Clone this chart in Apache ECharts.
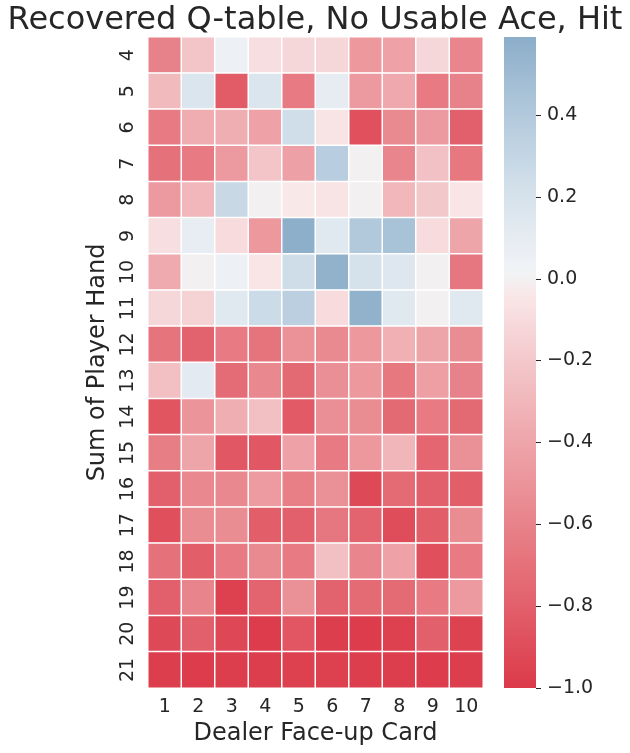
<!DOCTYPE html>
<html>
<head>
<meta charset="utf-8">
<script src="https://cdn.jsdelivr.net/npm/echarts@6/dist/echarts.min.js"></script>
<style>html,body{margin:0;padding:0;background:#fff;}#c{width:630px;height:753px;}</style>
</head>
<body>
<div id="c"></div>
<script>
const dealerCards = ['1','2','3','4','5','6','7','8','9','10'];
const playerSums = ['4','5','6','7','8','9','10','11','12','13','14','15','16','17','18','19','20','21'];
// one array per player sum, values for dealer card 1..10
const q4  = [-0.60,-0.22, 0.05,-0.08,-0.12,-0.12,-0.48,-0.42,-0.12,-0.58];
const q5  = [-0.28, 0.17,-0.82, 0.17,-0.65, 0.10,-0.47,-0.38,-0.65,-0.60];
const q6  = [-0.65,-0.36,-0.35,-0.42, 0.23,-0.06,-0.88,-0.56,-0.47,-0.80];
const q7  = [-0.70,-0.65,-0.47,-0.22,-0.43, 0.37, 0.00,-0.58,-0.24,-0.66];
const q8  = [-0.47,-0.30, 0.28, 0.00,-0.04,-0.06, 0.00,-0.30,-0.20,-0.05];
const q9  = [-0.08, 0.08,-0.10,-0.48, 0.58, 0.13, 0.40, 0.45,-0.10,-0.40];
const q10 = [-0.37, 0.00, 0.05,-0.05, 0.24, 0.56, 0.20, 0.15, 0.00,-0.67];
const q11 = [-0.12,-0.15, 0.14, 0.26, 0.35,-0.10, 0.56, 0.14, 0.00, 0.14];
const q12 = [-0.68,-0.79,-0.65,-0.68,-0.51,-0.56,-0.48,-0.34,-0.40,-0.54];
const q13 = [-0.25, 0.12,-0.73,-0.57,-0.75,-0.53,-0.48,-0.66,-0.44,-0.60];
const q14 = [-0.86,-0.50,-0.35,-0.25,-0.83,-0.53,-0.54,-0.75,-0.65,-0.75];
const q15 = [-0.63,-0.40,-0.84,-0.84,-0.42,-0.65,-0.48,-0.31,-0.77,-0.52];
const q16 = [-0.80,-0.57,-0.57,-0.46,-0.62,-0.52,-0.92,-0.74,-0.80,-0.81];
const q17 = [-0.89,-0.54,-0.54,-0.81,-0.80,-0.67,-0.78,-0.90,-0.81,-0.54];
const q18 = [-0.70,-0.81,-0.65,-0.56,-0.65,-0.25,-0.58,-0.42,-0.89,-0.65];
const q19 = [-0.80,-0.59,-0.97,-0.78,-0.52,-0.79,-0.74,-0.74,-0.65,-0.47];
const q20 = [-0.92,-0.80,-0.93,-0.99,-0.85,-0.98,-0.99,-0.97,-0.80,-0.96];
const q21 = [-0.98,-0.99,-0.98,-0.98,-0.97,-0.97,-0.98,-0.98,-0.99,-0.98];
const qRows = [q4,q5,q6,q7,q8,q9,q10,q11,q12,q13,q14,q15,q16,q17,q18,q19,q20,q21];
const colorbarTicks = [-1.0,-0.8,-0.6,-0.4,-0.2,0.0,0.2,0.4];

const vMin = -1.0, vMax = 0.59;
// colours sampled along the colour bar
const paletteStops = [
  [-1.0,'#dc3a49'],[-0.9,'#df4d5a'],[-0.8,'#e2606b'],[-0.7,'#e5717a'],[-0.6,'#e8828a'],
  [-0.5,'#eb949a'],[-0.4,'#eea5aa'],[-0.3,'#f1b7bb'],[-0.2,'#f3c8cb'],[-0.1,'#f7dbdd'],
  [-0.03,'#f9e9ea'],[0.0,'#f2f2f2'],[0.03,'#eff2f6'],[0.1,'#e6ecf2'],[0.2,'#d6e2ec'],
  [0.3,'#c4d6e4'],[0.4,'#b2c9dc'],[0.5,'#9ebbd2'],[0.6,'#8aacc8']
];

const data = [];
qRows.forEach((row, r) => row.forEach((v, c) => data.push([c, r, v])));

function colorFor(v) {
  for (let i = 0; i < paletteStops.length - 1; i++) {
    const a = paletteStops[i], b = paletteStops[i+1];
    if (v <= b[0] || i === paletteStops.length - 2) {
      const t = Math.max(0, Math.min(1, (v - a[0]) / (b[0] - a[0])));
      return echarts.color.lerp(t, [a[1], b[1]]);
    }
  }
}

const font = 'DejaVu Sans';
const txt = '#262626';
const chart = echarts.init(document.getElementById('c'), null, { renderer: 'canvas' });
chart.setOption({
  animation: false,
  backgroundColor: '#fff',
  title: {
    text: 'Recovered Q-table, No Usable Ace, Hit',
    left: 'center', top: 0,
    textStyle: { fontFamily: font, fontSize: 32, fontWeight: 'normal', color: txt }
  },
  grid: [
    { left: 148, right: 147, top: 37, bottom: 65 },
    { left: 504, width: 32, top: 37, bottom: 65 }
  ],
  xAxis: [
    {
      type: 'category', data: dealerCards, gridIndex: 0, position: 'bottom',
      axisLine: { show: false }, axisTick: { show: false }, splitLine: { show: false },
      axisLabel: { fontFamily: font, fontSize: 19, color: txt, margin: 10 },
      name: 'Dealer Face-up Card', nameLocation: 'middle', nameGap: 34,
      nameTextStyle: { fontFamily: font, fontSize: 24, color: txt }
    },
    {
      type: 'value', gridIndex: 1, min: 0, max: 1, show: false
    }
  ],
  yAxis: [
    {
      type: 'category', data: playerSums, gridIndex: 0, inverse: true,
      axisLine: { show: false }, axisTick: { show: false }, splitLine: { show: false },
      axisLabel: { fontFamily: font, fontSize: 19, color: txt, rotate: 90, margin: 10 },
      name: 'Sum of Player Hand', nameLocation: 'middle', nameGap: 38, nameRotate: 90,
      nameTextStyle: { fontFamily: font, fontSize: 24, color: txt }
    },
    {
      type: 'value', gridIndex: 1, min: vMin, max: vMax, interval: 0.2, position: 'right',
      axisLine: { show: false }, splitLine: { show: false }, axisTick: { show: false },
      axisLabel: {
        fontFamily: font, fontSize: 19, color: txt, margin: 11, customValues: colorbarTicks,
        formatter: v => v.toFixed(1).replace('-', '\u2212')
      }
    }
  ],
  visualMap: {
    show: false, type: 'continuous', seriesIndex: 0, dimension: 2,
    min: vMin, max: vMax,
    inRange: { color: (function(){ const cs=[]; for (let i=0;i<=40;i++){ cs.push(colorFor(vMin + (vMax - vMin) * i / 40)); } return cs; })() }
  },
  series: [
    {
      type: 'heatmap', xAxisIndex: 0, yAxisIndex: 0, data: data,
      itemStyle: { borderColor: '#ffffff', borderWidth: 1.5 },
      emphasis: { disabled: true }
    },
    {
      type: 'custom', xAxisIndex: 1, yAxisIndex: 1, data: [[0.5, 0]], silent: true,
      renderItem: function (params, api) {
        const p0 = api.coord([0, vMax]);
        const p1 = api.coord([1, vMin]);
        const stops = [];
        for (let i = 0; i <= 60; i++) {
          const v = vMax - (vMax - vMin) * i / 60;
          stops.push({ offset: i / 60, color: colorFor(v) });
        }
        const children = [{
          type: 'rect',
          shape: { x: p0[0], y: p0[1], width: p1[0] - p0[0], height: p1[1] - p0[1] },
          style: { fill: new echarts.graphic.LinearGradient(0, 0, 0, 1, stops) }
        }];
        colorbarTicks.forEach(t => {
          const p = api.coord([1, t]);
          const y = Math.round(p[1]) + 0.5;
          children.push({
            type: 'line',
            shape: { x1: p[0], y1: y, x2: p[0] + 5, y2: y },
            style: { stroke: txt, lineWidth: 1 }
          });
        });
        return { type: 'group', children: children };
      }
    }
  ]
});
</script>
</body>
</html>
